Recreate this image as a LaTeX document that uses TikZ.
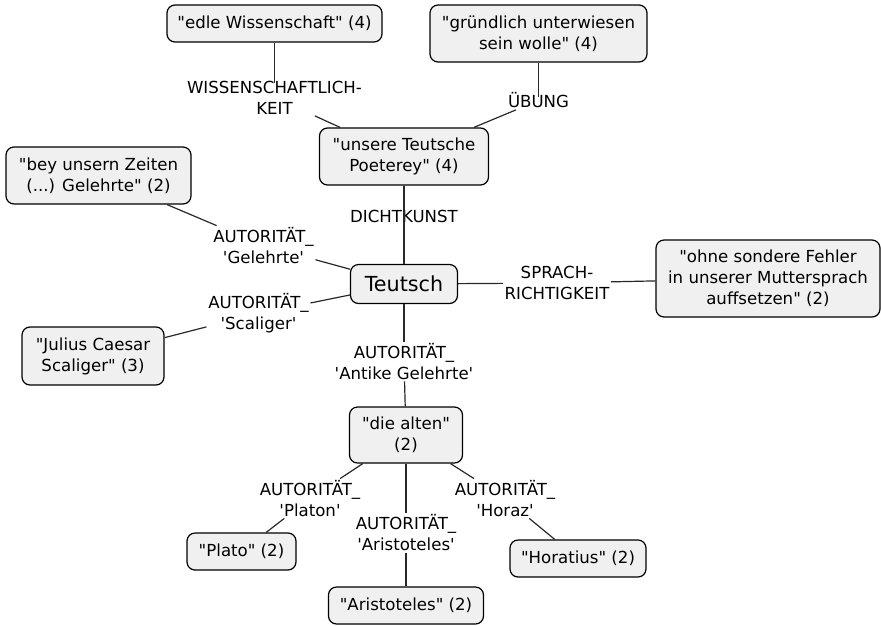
\documentclass[tikz,border=0pt]{standalone}
\usepackage{fontspec}
\newfontfamily\df{DejaVu Sans}
\newcommand\fsz{\fontsize{16.6}{21}\selectfont}
\definecolor{boxfill}{RGB}{240,240,240}
\definecolor{linecol}{RGB}{40,40,40}
\tikzset{
  box/.style={draw=black, line width=1.2pt, fill=boxfill, rounded corners=8pt,
    inner sep=0pt, align=center, font=\df\fsz},
  lab/.style={inner sep=1.5pt, align=center, font=\df\fsz},
  conn/.style={line width=1.2pt, draw=linecol},
}
\begin{document}
\begin{tikzpicture}[x=1pt,y=-1pt]
\useasboundingbox (0,0) rectangle (881,625);
% boxes
\node[box, minimum width=215pt, minimum height=37pt] (edle) at (274.5,23.5) {"edle Wissenschaft" (4)};
\node[box, minimum width=217pt, minimum height=57pt] (gruend) at (538.5,33.5) {"gründlich unterwiesen\\sein wolle" (4)};
\node[box, minimum width=169pt, minimum height=57pt] (unsere) at (404,156.5) {"unsere Teutsche\\Poeterey" (4)};
\node[box, minimum width=185pt, minimum height=57pt] (bey) at (98.5,175.5) {"bey unsern Zeiten\\(...) Gelehrte" (2)};
\node[box, minimum width=107pt, minimum height=39pt, font=\df\fontsize{20.7}{24}\selectfont] (teutsch) at (404,284) {Teutsch};
\node[box, minimum width=224pt, minimum height=77pt] (ohne) at (768,278.5) {"ohne sondere Fehler\\in unserer Muttersprach\\auffsetzen" (2)};
\node[box, minimum width=142pt, minimum height=58pt] (julius) at (93,356) {"Julius Caesar\\Scaliger" (3)};
\node[box, minimum width=113pt, minimum height=56pt] (alten) at (406,435) {"die alten"\\(2)};
\node[box, minimum width=109pt, minimum height=37pt] (plato) at (241.5,551.5) {"Plato" (2)};
\node[box, minimum width=155pt, minimum height=37pt] (aristo) at (406,605.5) {"Aristoteles" (2)};
\node[box, minimum width=136pt, minimum height=37pt] (horatius) at (578,558.5) {"Horatius" (2)};
% labels
\node[lab] (lwiss) at (274.5,97.5) {WISSENSCHAFTLICH-\\KEIT};
\node[lab] (lueb) at (538.5,100.5) {ÜBUNG};
\node[lab] (ldicht) at (404,216) {DICHTKUNST};
\node[lab] (lgel) at (263.5,245.5) {AUTORITÄT\_\\\textquotesingle Gelehrte\textquotesingle};
\node[lab] (lscal) at (258.5,313.5) {AUTORITÄT\_\\\textquotesingle Scaliger\textquotesingle};
\node[lab] (lspr) at (557,283) {SPRACH-\\RICHTIGKEIT};
\node[lab] (lant) at (404,361.5) {AUTORITÄT\_\\\textquotesingle Antike Gelehrte\textquotesingle};
\node[lab] (lplat) at (310,498.5) {AUTORITÄT\_\\\textquotesingle Platon\textquotesingle};
\node[lab] (lari) at (406,533) {AUTORITÄT\_\\\textquotesingle Aristoteles\textquotesingle};
\node[lab] (lhor) at (505,498.5) {AUTORITÄT\_\\\textquotesingle Horaz\textquotesingle};
% connectors
\draw[conn, shorten >=-4pt] (edle) -- (lwiss);
\draw[conn] (lwiss) -- (unsere);
\draw[conn, shorten >=-6pt] (gruend) -- (lueb);
\draw[conn] (lueb) -- (unsere);
\draw[conn] (unsere) -- (teutsch);
\draw[conn] (bey) -- (lgel);
\draw[conn] (lgel) -- (teutsch);
\draw[conn] (teutsch) -- (lscal);
\draw[conn] (lscal) -- (julius);
\draw[conn] (teutsch) -- (lspr);
\draw[conn] (lspr) -- (ohne);
\draw[conn] (teutsch) -- (lant);
\draw[conn] (lant) -- (alten);
\draw[conn] (alten) -- (lplat);
\draw[conn] (lplat) -- (plato);
\draw[conn] (alten) -- (lari);
\draw[conn] (lari) -- (aristo);
\draw[conn] (alten) -- (lhor);
\draw[conn] (lhor) -- (horatius);
\end{tikzpicture}
\end{document}
